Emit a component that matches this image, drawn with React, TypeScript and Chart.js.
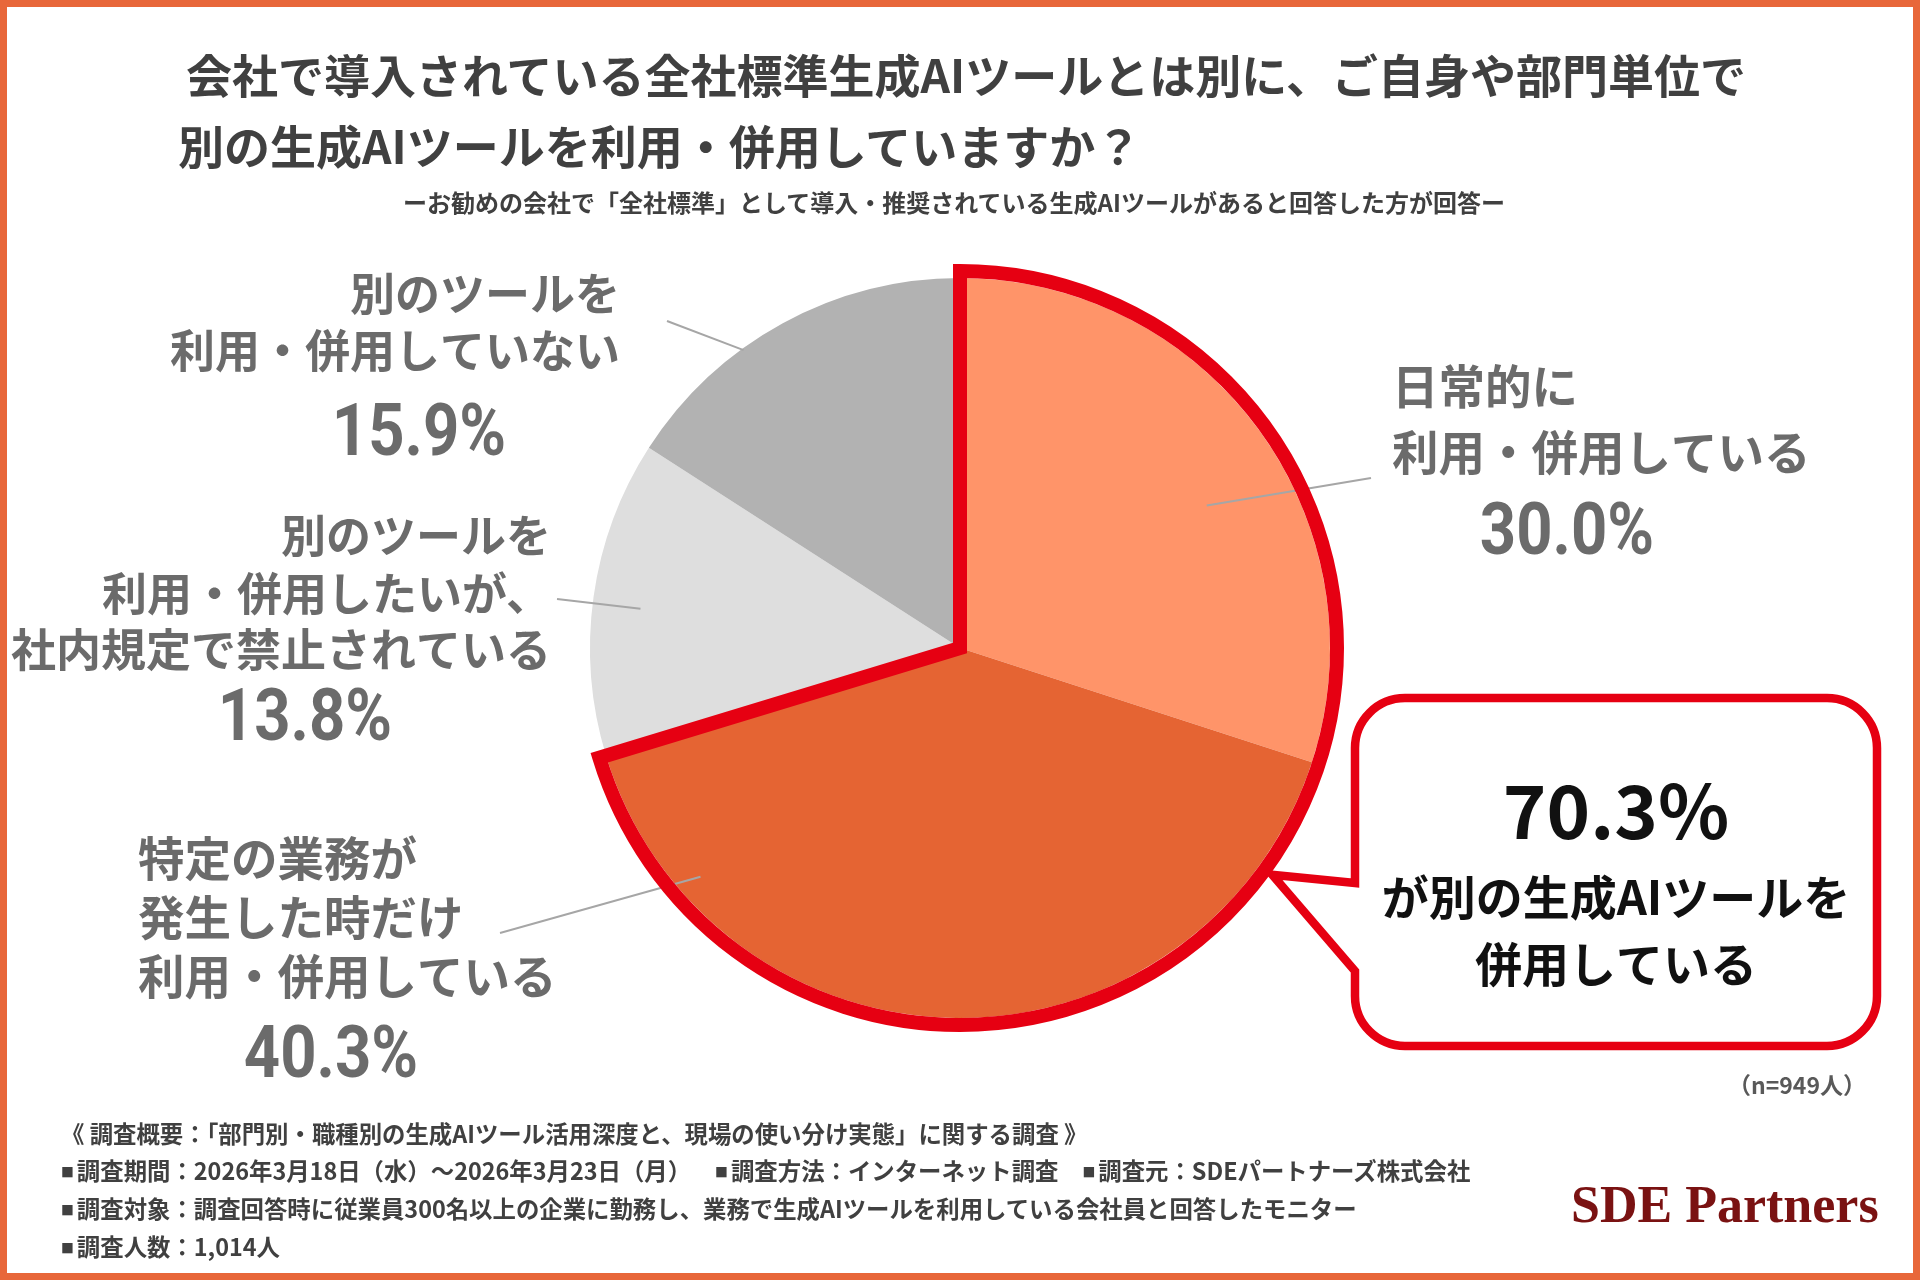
import React, { useEffect, useRef } from "react";
import { Chart, registerables } from "chart.js";

Chart.register(...registerables);

const W = 1920;
const H = 1280;

// ---- content ----
const titleLines = [
  "会社で導入されている全社標準生成AIツールとは別に、ご自身や部門単位で",
  "別の生成AIツールを利用・併用していますか？",
];
const subtitle =
  "ーお勧めの会社で「全社標準」として導入・推奨されている生成AIツールがあると回答した方が回答ー";

const categoryLines = [
  ["日常的に", "利用・併用している"],
  ["特定の業務が", "発生した時だけ", "利用・併用している"],
  ["別のツールを", "利用・併用したいが、", "社内規定で禁止されている"],
  ["別のツールを", "利用・併用していない"],
];
const categories = categoryLines.map((l) => l.join(""));
const shares = [30.0, 40.3, 13.8, 15.9];
const sliceColors = ["#FF9469", "#E56433", "#DEDEDE", "#B2B2B2"];
// the slices counted as "using another tool" (outlined in red)
const highlightCount = 2;
const calloutLines = ["が別の生成AIツールを", "併用している"];
const sampleSize = 949;

const surveyTitle =
  "《 調査概要：「部門別・職種別の生成AIツール活用深度と、現場の使い分け実態」に関する調査 》";
const surveyItems = [
  [
    "調査期間：2026年3月18日（水）〜2026年3月23日（月）",
    "調査方法：インターネット調査",
    "調査元：SDEパートナーズ株式会社",
  ],
  [
    "調査対象：調査回答時に従業員300名以上の企業に勤務し、業務で生成AIツールを利用している会社員と回答したモニター",
  ],
  ["調査人数：1,014人"],
];
const brand = "SDE Partners";

// ---- layout ----
const JP = '"Noto Sans CJK JP", "Noto Sans CJK SC", sans-serif';
const LABEL_GRAY = "#6B6B6B";
const RED = "#E60012";

type LabelPos = {
  align: CanvasTextAlign;
  x: number;
  fs: number;
  lineYs: number[];
  pctX: number;
  pctY: number;
  leader: { angle: number; rFrac: number; x: number; y: number };
};

const labelLayout: LabelPos[] = [
  { align: "left", x: 1392, fs: 46.5, lineYs: [386, 452], pctX: 1567, pctY: 528, leader: { angle: 60, rFrac: 0.77, x: 1371, y: 478 } },
  { align: "left", x: 138, fs: 46.5, lineYs: [858, 917, 976], pctX: 331, pctY: 1051, leader: { angle: 228.6, rFrac: 0.935, x: 500, y: 933 } },
  { align: "right", x: 551, fs: 45, lineYs: [536, 594, 650], pctX: 305, pctY: 714, leader: { angle: 277, rFrac: 0.87, x: 557, y: 599 } },
  { align: "right", x: 620, fs: 45, lineYs: [294, 351], pctX: 419, pctY: 429, leader: { angle: 324, rFrac: 0.995, x: 667, y: 321 } },
];

const calloutBox = { x1: 1355, y1: 698, x2: 1877, y2: 1046, r: 50, tailTop: 883, tailBottom: 971, tipAngle: 126, tipOut: 16 };

function polar(cx: number, cy: number, r: number, deg: number) {
  const a = ((deg - 90) * Math.PI) / 180;
  return { x: cx + Math.cos(a) * r, y: cy + Math.sin(a) * r };
}

function drawScaledText(
  ctx: CanvasRenderingContext2D,
  text: string,
  x: number,
  baseline: number,
  font: string,
  color: string,
  align: CanvasTextAlign,
  sx: number
) {
  ctx.save();
  ctx.font = font;
  ctx.fillStyle = color;
  ctx.textAlign = align;
  ctx.textBaseline = "alphabetic";
  ctx.translate(x, baseline);
  ctx.scale(sx, 1);
  ctx.fillText(text, 0, 0);
  ctx.restore();
}

const pieDecor = {
  id: "pieDecor",
  afterDatasetsDraw(chart: any) {
    const ctx: CanvasRenderingContext2D = chart.ctx;
    const arcs = chart.getDatasetMeta(0).data as any[];
    const values = chart.data.datasets[0].data as number[];
    const cx = arcs[0].x;
    const cy = arcs[0].y;
    const R = arcs[0].outerRadius;

    // leader lines
    ctx.save();
    ctx.strokeStyle = "#A6A6A6";
    ctx.lineWidth = 2;
    labelLayout.forEach((l) => {
      const p = polar(cx, cy, R * l.leader.rFrac, l.leader.angle);
      ctx.beginPath();
      ctx.moveTo(p.x, p.y);
      ctx.lineTo(l.leader.x, l.leader.y);
      ctx.stroke();
    });
    ctx.restore();

    // red outline around the highlighted slices
    const start = arcs[0].startAngle;
    const end = arcs[highlightCount - 1].endAngle;
    const Ro = R + 7;
    ctx.save();
    ctx.beginPath();
    ctx.moveTo(cx, cy);
    ctx.lineTo(cx + Math.cos(start) * Ro, cy + Math.sin(start) * Ro);
    ctx.arc(cx, cy, Ro, start, end);
    ctx.closePath();
    ctx.lineWidth = 14;
    ctx.lineJoin = "miter";
    ctx.miterLimit = 10;
    ctx.strokeStyle = RED;
    ctx.stroke();
    ctx.restore();

    // slice labels
    labelLayout.forEach((l, i) => {
      categoryLines[i].forEach((line, j) => {
        drawScaledText(ctx, line, l.x, l.lineYs[j] + 0.38 * l.fs, `700 ${l.fs}px ${JP}`, LABEL_GRAY, l.align, 1);
      });
      drawScaledText(
        ctx,
        `${values[i].toFixed(1)}%`,
        l.pctX,
        l.pctY + 25.6,
        `700 72px Roboto, "Noto Sans", sans-serif`,
        LABEL_GRAY,
        "center",
        0.88
      );
    });

    // speech-bubble callout
    const b = calloutBox;
    const tip = polar(cx, cy, R + b.tipOut, b.tipAngle);
    ctx.save();
    ctx.beginPath();
    ctx.moveTo(b.x1, b.tailTop);
    ctx.lineTo(tip.x, tip.y);
    ctx.lineTo(b.x1, b.tailBottom);
    ctx.lineTo(b.x1, b.y2 - b.r);
    ctx.arcTo(b.x1, b.y2, b.x1 + b.r, b.y2, b.r);
    ctx.lineTo(b.x2 - b.r, b.y2);
    ctx.arcTo(b.x2, b.y2, b.x2, b.y2 - b.r, b.r);
    ctx.lineTo(b.x2, b.y1 + b.r);
    ctx.arcTo(b.x2, b.y1, b.x2 - b.r, b.y1, b.r);
    ctx.lineTo(b.x1 + b.r, b.y1);
    ctx.arcTo(b.x1, b.y1, b.x1, b.y1 + b.r, b.r);
    ctx.closePath();
    ctx.fillStyle = "#FFFFFF";
    ctx.fill();
    ctx.lineWidth = 8.5;
    ctx.lineJoin = "miter";
    ctx.strokeStyle = RED;
    ctx.stroke();
    ctx.restore();

    const total = values.slice(0, highlightCount).reduce((s, v) => s + v, 0);
    const mid = (b.x1 + b.x2) / 2;
    drawScaledText(ctx, `${total.toFixed(1)}%`, mid, 812 + 27, `700 74px ${JP}`, "#111111", "center", 1);
    drawScaledText(ctx, calloutLines[0], mid, 897 + 18, `700 47px ${JP}`, "#111111", "center", 1);
    drawScaledText(ctx, calloutLines[1], mid, 964 + 18, `700 47px ${JP}`, "#111111", "center", 1);
  },
};

type TextProps = {
  x: number;
  cy: number;
  fs: number;
  align?: "left" | "center" | "right";
  color?: string;
  family?: string;
  weight?: number;
  k?: number;
  children: React.ReactNode;
};

function Txt({ x, cy, fs, align = "left", color = "#404040", family = JP, weight = 700, k = 0.556, children }: TextProps) {
  const style: React.CSSProperties = {
    position: "absolute",
    top: cy - k * fs,
    fontSize: fs,
    lineHeight: `${fs}px`,
    fontFamily: family,
    fontWeight: weight,
    color,
    whiteSpace: "nowrap",
  };
  if (align === "left") style.left = x;
  else if (align === "right") style.right = W - x;
  else {
    style.left = x;
    style.transform = "translateX(-50%)";
  }
  return <div style={style}>{children}</div>;
}

const Bullet = () => (
  <span style={{ fontSize: "0.55em", verticalAlign: "0.25em", marginRight: 3 }}>■</span>
);

const NOTE_FS = 23.4;

export default function App() {
  const canvasRef = useRef<HTMLCanvasElement | null>(null);

  useEffect(() => {
    const canvas = canvasRef.current;
    if (!canvas) return;
    const chart = new Chart(canvas, {
      type: "pie",
      data: {
        labels: categories,
        datasets: [
          {
            data: shares,
            backgroundColor: sliceColors,
            borderWidth: 0,
          },
        ],
      },
      options: {
        responsive: false,
        animation: false,
        devicePixelRatio: 1,
        layout: { padding: { left: 590, right: 590, top: 278, bottom: 262 } },
        plugins: {
          legend: { display: false },
          tooltip: { enabled: false },
        },
        events: [],
      },
      plugins: [pieDecor],
    });
    return () => chart.destroy();
  }, []);

  return (
    <div
      style={{
        position: "fixed",
        left: 0,
        top: 0,
        width: W,
        height: H,
        background: "#FFFFFF",
        overflow: "hidden",
      }}
    >
      <canvas
        ref={canvasRef}
        width={W}
        height={H}
        style={{ position: "absolute", left: 0, top: 0, width: W, height: H }}
      />

      <Txt x={186} cy={76} fs={46}>{titleLines[0]}</Txt>
      <Txt x={178} cy={147} fs={46}>{titleLines[1]}</Txt>
      <Txt x={954} cy={203} fs={24} align="center">{subtitle}</Txt>

      <Txt x={1866} cy={1086} fs={23} align="right" color="#595959">
        （n={sampleSize}人）
      </Txt>

      <Txt x={61} cy={1135} fs={NOTE_FS}>{surveyTitle}</Txt>
      <Txt x={61} cy={1172} fs={NOTE_FS}>
        {surveyItems[0].map((s, i) => (
          <span key={i} style={{ marginLeft: i === 0 ? 0 : 24 }}>
            <Bullet />
            {s}
          </span>
        ))}
      </Txt>
      <Txt x={61} cy={1210} fs={NOTE_FS}>
        <Bullet />
        {surveyItems[1][0]}
      </Txt>
      <Txt x={61} cy={1248} fs={NOTE_FS}>
        <Bullet />
        {surveyItems[2][0]}
      </Txt>

      <Txt
        x={1571}
        cy={1205}
        fs={52}
        color="#7A1212"
        family='"Liberation Serif", "DejaVu Serif", serif'
        k={0.507}
      >
        {brand}
      </Txt>

      <div
        style={{
          position: "absolute",
          left: 0,
          top: 0,
          width: W,
          height: H,
          boxSizing: "border-box",
          border: "7px solid #E8673A",
          pointerEvents: "none",
        }}
      />
    </div>
  );
}
